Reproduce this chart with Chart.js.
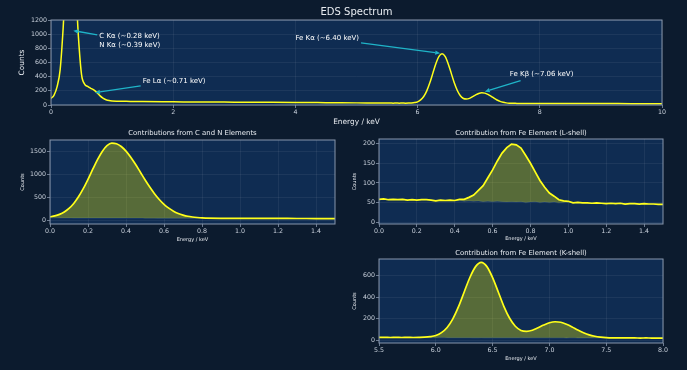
<!DOCTYPE html>
<html>
<head>
<meta charset="utf-8">
<script src="https://cdn.jsdelivr.net/npm/chart.js@4.4.1/dist/chart.umd.min.js"></script>
<style>
    body { margin: 0; background: #0c1b2e; width: 687px; height: 370px; overflow: hidden; }
    .panel { position: absolute; }
</style>
</head>
<body>
<div class="panel" style="left:0;top:0"><canvas id="cvSpectrum" width="687" height="130"></canvas></div>
<div class="panel" style="left:0;top:125px"><canvas id="cvCN" width="345" height="125"></canvas></div>
<div class="panel" style="left:340px;top:125px"><canvas id="cvFeL" width="347" height="125"></canvas></div>
<div class="panel" style="left:340px;top:245px"><canvas id="cvFeK" width="347" height="125"></canvas></div>
<script>
// ---- data ----
// full spectrum, low energy part (C, N, Fe L)
const energyLow = [0, 0.05, 0.1, 0.15, 0.2, 0.25, 0.3, 0.35, 0.4, 0.45, 0.5, 0.55, 0.6, 0.65, 0.7, 0.75, 0.8, 0.85, 0.9, 0.95, 1.0,
    1.1, 1.2, 1.3, 1.4, 1.5, 2.0, 2.5, 3.0, 3.5, 4.0, 4.5, 5.0];
const countsLow = [93, 140, 260, 500, 1101, 1918, 2506, 2430, 1748, 948, 430, 295, 262, 236, 212, 178, 132, 97, 74, 62, 57,
    54, 52, 50, 49, 48, 45, 42, 40, 38, 36, 33, 30];
const energyHigh = [8.5, 9.0, 9.5, 10.0];
const countsHigh = [20, 20, 19, 19];

// C and N contribution
const energyCN = [0, 0.025, 0.05, 0.075, 0.1, 0.125, 0.15, 0.175, 0.2, 0.225, 0.25, 0.275, 0.3, 0.325, 0.35, 0.375, 0.4,
    0.425, 0.45, 0.475, 0.5, 0.525, 0.55, 0.575, 0.6, 0.625, 0.65, 0.675, 0.7, 0.725, 0.75, 0.775, 0.8,
    0.9, 1.0, 1.1, 1.2, 1.3, 1.4, 1.5];
const countsCN = [85, 105, 137, 189, 267, 375, 519, 697, 901, 1119, 1329, 1507, 1633, 1689, 1674, 1614, 1514,
    1381, 1226, 1059, 891, 732, 588, 461, 356, 272, 206, 157, 122, 96, 80, 69, 61,
    52, 51, 50, 49, 48, 47, 46];
const backgroundCN = [62, 62, 61, 61, 61, 60, 60, 60, 59, 59, 59, 58, 58, 58, 57, 57, 57,
    56, 56, 56, 55, 55, 55, 54, 54, 54, 53, 53, 53, 52, 52, 52, 51,
    51, 50, 49, 48, 47, 46, 45];

// Fe L-shell
const energyFeL = [0, 0.025, 0.05, 0.075, 0.1, 0.125, 0.15, 0.175, 0.2, 0.225, 0.25, 0.275, 0.3, 0.325, 0.35, 0.375,
    0.4, 0.425, 0.45, 0.475, 0.5, 0.525, 0.55, 0.575, 0.6, 0.625, 0.65, 0.675, 0.7, 0.725, 0.75, 0.775,
    0.8, 0.825, 0.85, 0.875, 0.9, 0.925, 0.95, 0.975, 1.0, 1.025, 1.05, 1.075, 1.1, 1.125, 1.15, 1.175,
    1.2, 1.225, 1.25, 1.275, 1.3, 1.325, 1.35, 1.375, 1.4, 1.425, 1.45, 1.475, 1.5];
const countsFeL = [58, 59, 57, 58, 57, 58, 56, 57, 56, 57, 57, 56, 54, 56, 55, 56,
    55, 58, 58, 63, 69, 81, 93, 113, 133, 156, 176, 190, 199, 197, 189, 170,
    150, 128, 106, 89, 74, 66, 57, 54, 53, 49, 50, 49, 49, 48, 49, 48,
    47, 48, 47, 48, 46, 47, 47, 46, 47, 46, 46, 45, 45];
const backgroundFeL = [58, 59, 57, 58, 57, 58, 56, 57, 56, 57, 57, 56, 54, 56, 55, 56,
    54, 55, 53, 54, 53, 54, 52, 53, 52, 53, 52, 51, 52, 51, 52, 50,
    51, 52, 50, 51, 50, 51, 49, 50, 51, 49, 50, 49, 49, 48, 49, 48,
    47, 48, 47, 48, 46, 47, 47, 46, 47, 46, 46, 45, 45];

// Fe K-shell
const energyFeK = [5.5, 5.55, 5.6, 5.65, 5.7, 5.75, 5.8, 5.85, 5.9, 5.95, 6.0, 6.05, 6.1, 6.15, 6.2, 6.25, 6.3,
    6.35, 6.4, 6.45, 6.5, 6.55, 6.6, 6.65, 6.7, 6.75, 6.8, 6.85, 6.9, 6.95, 7.0, 7.05, 7.1, 7.15,
    7.2, 7.25, 7.3, 7.35, 7.4, 7.45, 7.5, 7.55, 7.6, 7.65, 7.7, 7.75, 7.8, 7.85, 7.9, 7.95, 8.0];
const countsFeK = [27, 28, 26, 27, 26, 27, 26, 27, 29, 34, 45, 72, 120, 200, 313, 450, 585,
    686, 725, 686, 584, 450, 314, 205, 131, 92, 84, 94, 117, 142, 163, 173, 168, 150,
    125, 96, 71, 51, 38, 30, 25, 23, 23, 22, 22, 22, 21, 22, 21, 21, 21];
const backgroundFeK = [27, 27, 26, 27, 26, 26, 26, 26, 26, 26, 25, 26, 25, 25, 25, 25, 25,
    24, 25, 24, 24, 24, 24, 24, 24, 23, 24, 23, 23, 23, 23, 23, 23, 22,
    23, 22, 22, 22, 22, 22, 22, 22, 22, 21, 22, 21, 21, 22, 21, 21, 21];

// tick labels
const ticksSpectrumX = [0, 2, 4, 6, 8, 10];
const ticksSpectrumY = [0, 200, 400, 600, 800, 1000, 1200];
const ticksLowX = [0, 0.2, 0.4, 0.6, 0.8, 1.0, 1.2, 1.4];
const ticksCNY = [0, 500, 1000, 1500];
const ticksFeLY = [0, 50, 100, 150, 200];
const ticksFeKX = [5.5, 6.0, 6.5, 7.0, 7.5, 8.0];
const ticksFeKY = [0, 200, 400, 600];

// ---- styling ----
const FONT = "'DejaVu Sans', 'Liberation Sans', sans-serif";
const plotBg = "#0f2c52";
const spineColor = "#8796ab";
const gridColor = "rgba(255,255,255,0.10)";
const tickLabelColor = "#c9d1dc";
const textColor = "#e8ecf1";
const lineYellow = "#ffff1a";
const fillYellow = "rgba(255,255,0,0.3)";
const bgLineColor = "#1d3d6b";
const arrowColor = "#1fb4c8";

const toPoints = (xs, ys) => xs.map((x, i) => ({ x: x, y: ys[i] }));

const xAxis = (min, max, ticks, dec, height) => ({
    type: "linear", min: min, max: max,
    afterBuildTicks: s => { s.ticks = ticks.map(v => ({ value: v })); },
    afterFit: s => { s.height = height; },
    ticks: { color: tickLabelColor, font: { family: FONT, size: 6.3 }, padding: 1, maxRotation: 0, autoSkip: false,
        callback: v => Number(v).toFixed(dec) },
    grid: { color: gridColor, lineWidth: 0.6, tickLength: 3, tickColor: spineColor, tickWidth: 0.8 },
    border: { display: false }
});

const yAxis = (min, max, ticks, width) => ({
    type: "linear", min: min, max: max,
    afterBuildTicks: s => { s.ticks = ticks.map(v => ({ value: v })); },
    afterFit: s => { s.width = width; },
    ticks: { color: tickLabelColor, font: { family: FONT, size: 6.3 }, padding: 1, autoSkip: false,
        callback: v => String(v) },
    grid: { color: gridColor, lineWidth: 0.6, tickLength: 3, tickColor: spineColor, tickWidth: 0.8 },
    border: { display: false }
});

// background of the plot, spines, titles and annotations
const makeDeco = (cfg) => ({
    id: "deco",
    beforeDraw(chart) {
        const { ctx, chartArea: a } = chart;
        ctx.save();
        ctx.fillStyle = plotBg;
        ctx.fillRect(a.left, a.top, a.right - a.left, a.bottom - a.top);
        ctx.restore();
    },
    afterDatasetsDraw(chart) {
        const { ctx, chartArea: a } = chart;
        ctx.save();
        ctx.strokeStyle = spineColor;
        ctx.lineWidth = 1;
        ctx.strokeRect(a.left, a.top, a.right - a.left, a.bottom - a.top);
        ctx.restore();
    },
    afterDraw(chart) {
        const { ctx, chartArea: a } = chart;
        const cx = (a.left + a.right) / 2, cy = (a.top + a.bottom) / 2;
        ctx.save();
        ctx.fillStyle = textColor;
        ctx.textAlign = "center";
        ctx.textBaseline = "middle";
        ctx.font = cfg.titleSize + "px " + FONT;
        ctx.fillText(cfg.title, cx, cfg.titleY);
        ctx.font = cfg.labelSize + "px " + FONT;
        ctx.fillText("Energy / keV", cx, cfg.xLabelY);
        ctx.translate(cfg.yLabelX, cy);
        ctx.rotate(-Math.PI / 2);
        ctx.fillText("Counts", 0, 0);
        ctx.restore();

        (cfg.annotations || []).forEach(an => {
            const xs = chart.scales.x, ys = chart.scales.y;
            const hx = xs.getPixelForValue(an.at[0]), hy = ys.getPixelForValue(an.at[1]);
            const tx = xs.getPixelForValue(an.textAt[0]), ty = ys.getPixelForValue(an.textAt[1]);
            ctx.save();
            ctx.font = "7px " + FONT;
            const lines = an.text.split("\n");
            const lh = 7 * 1.3;
            const w = Math.max(...lines.map(l => ctx.measureText(l).width));
            const h = lh * lines.length;
            const bx = tx + w / 2;
            const dx = hx - bx, dy = hy - ty;
            const t = Math.min((w / 2 + 2) / Math.abs(dx || 1e-9), (h / 2 + 2) / Math.abs(dy || 1e-9));
            const sx = bx + dx * t, sy = ty + dy * t;
            const ang = Math.atan2(hy - sy, hx - sx);
            const hl = 5, hw = 2.2;
            ctx.strokeStyle = arrowColor;
            ctx.fillStyle = arrowColor;
            ctx.lineWidth = 1.3;
            ctx.beginPath();
            ctx.moveTo(sx, sy);
            ctx.lineTo(hx - hl * Math.cos(ang), hy - hl * Math.sin(ang));
            ctx.stroke();
            ctx.beginPath();
            ctx.moveTo(hx, hy);
            ctx.lineTo(hx - hl * Math.cos(ang) + hw * Math.sin(ang), hy - hl * Math.sin(ang) - hw * Math.cos(ang));
            ctx.lineTo(hx - hl * Math.cos(ang) - hw * Math.sin(ang), hy - hl * Math.sin(ang) + hw * Math.cos(ang));
            ctx.closePath();
            ctx.fill();
            ctx.fillStyle = "#ffffff";
            ctx.textAlign = "left";
            ctx.textBaseline = "middle";
            lines.forEach((l, i) => ctx.fillText(l, tx, ty - h / 2 + lh * (i + 0.5)));
            ctx.restore();
        });
    }
});

const baseOptions = (padding, scales) => ({
    responsive: false,
    animation: false,
    devicePixelRatio: 1,
    layout: { padding: padding },
    plugins: { legend: { display: false }, tooltip: { enabled: false } },
    elements: { point: { radius: 0 } },
    scales: scales
});

const contributionChart = (canvasId, energy, counts, background, cfg) => {
    let chartStatus = Chart.getChart(canvasId);
    if (chartStatus != undefined) {
        chartStatus.destroy();
    }
    return new Chart(document.getElementById(canvasId).getContext("2d"), {
        type: "line",
        data: {
            datasets: [{
                label: "Background",
                data: toPoints(energy, background),
                borderColor: bgLineColor,
                borderWidth: 1.4,
                fill: false,
                order: 2,
                cubicInterpolationMode: cfg.smooth ? "monotone" : "default"
            }, {
                label: "Total",
                data: toPoints(energy, counts),
                borderColor: lineYellow,
                borderWidth: 1.7,
                backgroundColor: fillYellow,
                fill: { target: 0 },
                order: 1,
                cubicInterpolationMode: cfg.smooth ? "monotone" : "default"
            }]
        },
        options: baseOptions(cfg.padding, {
            x: xAxis(cfg.xMin, cfg.xMax, cfg.xTicks, 1, cfg.xHeight),
            y: yAxis(cfg.yMin, cfg.yMax, cfg.yTicks, cfg.yWidth)
        }),
        plugins: [makeDeco({ title: cfg.title, titleY: cfg.titleY, titleSize: 6.9, labelSize: 5,
            xLabelY: cfg.xLabelY, yLabelX: cfg.yLabelX })]
    });
};

const GetSpectrumChart = () => {
    const energy = energyLow.concat(energyFeK, energyHigh);
    const counts = countsLow.concat(countsFeK, countsHigh);
    return new Chart(document.getElementById("cvSpectrum").getContext("2d"), {
        type: "line",
        data: {
            datasets: [{
                label: "EDS",
                data: toPoints(energy, counts),
                borderColor: lineYellow,
                borderWidth: 1.5,
                fill: false,
                cubicInterpolationMode: "monotone"
            }]
        },
        options: baseOptions({ left: 0, top: 20, right: 25, bottom: 0 }, {
            x: xAxis(0, 10, ticksSpectrumX, 0, 25),
            y: yAxis(0, 1200, ticksSpectrumY, 51)
        }),
        plugins: [makeDeco({
            title: "EDS Spectrum", titleY: 12, titleSize: 10, labelSize: 7.4, xLabelY: 122, yLabelX: 22,
            annotations: [
                { text: "C K\u03b1 (~0.28 keV)\nN K\u03b1 (~0.39 keV)", at: [0.365, 1050], textAt: [0.79, 908] },
                { text: "Fe L\u03b1 (~0.71 keV)", at: [0.72, 174], textAt: [1.5, 339] },
                { text: "Fe K\u03b1 (~6.40 keV)", at: [6.37, 730], textAt: [4.0, 942] },
                { text: "Fe K\u03b2 (~7.06 keV)", at: [7.1, 188], textAt: [7.51, 438] }
            ]
        })]
    });
};

const loadDashboard = () => {
    GetSpectrumChart();
    contributionChart("cvCN", energyCN, countsCN, backgroundCN, {
        title: "Contributions from C and N Elements", smooth: true,
        padding: { left: 0, top: 15, right: 10, bottom: 0 }, xHeight: 26, yWidth: 50,
        xMin: 0, xMax: 1.5, xTicks: ticksLowX, yMin: -72, yMax: 1755, yTicks: ticksCNY,
        titleY: 8, xLabelY: 115, yLabelX: 23
    });
    contributionChart("cvFeL", energyFeL, countsFeL, backgroundFeL, {
        title: "Contribution from Fe Element (L-shell)", smooth: false,
        padding: { left: 0, top: 14, right: 24, bottom: 0 }, xHeight: 26, yWidth: 39,
        xMin: 0, xMax: 1.5, xTicks: ticksLowX, yMin: -5, yMax: 212, yTicks: ticksFeLY,
        titleY: 8, xLabelY: 114, yLabelX: 15
    });
    contributionChart("cvFeK", energyFeK, countsFeK, backgroundFeK, {
        title: "Contribution from Fe Element (K-shell)", smooth: true,
        padding: { left: 0, top: 14, right: 24, bottom: 0 }, xHeight: 27, yWidth: 39,
        xMin: 5.5, xMax: 8.0, xTicks: ticksFeKX, yMin: -25, yMax: 757, yTicks: ticksFeKY,
        titleY: 8, xLabelY: 114, yLabelX: 15
    });
};

loadDashboard();
</script>
</body>
</html>
